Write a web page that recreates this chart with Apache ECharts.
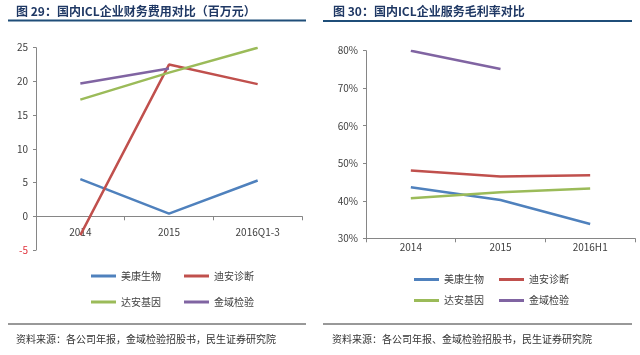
<!DOCTYPE html>
<html>
<head>
<meta charset="utf-8">
<script src="https://cdn.jsdelivr.net/npm/echarts@6/dist/echarts.min.js"></script>
<style>
html,body{margin:0;padding:0;background:#fff;}
#c{width:640px;height:355px;}
</style>
</head>
<body>
<div id="c"></div>
<script>
// ---- data ----
const seriesNames = ['美康生物', '迪安诊断', '达安基因', '金域检验'];
const seriesColors = ['#4F81BD', '#C0504D', '#9BBB59', '#8064A2'];

// Chart 29: financial expense (million yuan)
const catsLeft = ['2014', '2015', '2016Q1-3'];
const meikangExp = [5.5, 0.4, 5.3];
const dianExp = [-2.8, 22.5, 19.6];
const daanExp = [17.3, 21.3, 25.0];
const jinyuExp = [19.7, 21.9, null];

// Chart 30: service gross margin (%)
const catsRight = ['2014', '2015', '2016H1'];
const meikangMargin = [43.6, 40.2, 33.8];
const dianMargin = [48.1, 46.5, 46.8];
const daanMargin = [40.7, 42.3, 43.3];
const jinyuMargin = [80.0, 75.1, null];

const titleLeft = '图 29：国内ICL企业财务费用对比（百万元）';
const titleRight = '图 30：国内ICL企业服务毛利率对比';
const sourceText = '资料来源：各公司年报，金域检验招股书，民生证券研究院';
const sourceTextRight = '资料来源：各公司年报、金域检验招股书，民生证券研究院';

const font = '"Noto Sans CJK SC", "Noto Sans", sans-serif';
const axisCol = '#868686';
const txtCol = '#404040';

function mkLine(name, data, xi, color) {
  return {
    name: name, type: 'line', data: data,
    xAxisIndex: xi, yAxisIndex: xi,
    symbol: 'none', showSymbol: false,
    lineStyle: {width: 2.5, color: color},
    itemStyle: {color: color},
    connectNulls: false,
    z: 3
  };
}

const xBase = {
  type: 'category',
  boundaryGap: true,
  axisLine: {lineStyle: {color: axisCol, width: 1}},
  axisTick: {show: true, length: 4, inside: false, lineStyle: {color: axisCol}},
  axisLabel: {color: txtCol, fontSize: 10, fontFamily: font, margin: 5},
  splitLine: {show: false}
};

const legendText = {fontSize: 10, color: txtCol, fontFamily: font};

const chart = echarts.init(document.getElementById('c'), null, {renderer: 'canvas'});

const option = {
  backgroundColor: '#fff',
  animation: false,
  textStyle: {fontFamily: font},
  grid: [
    {left: 36, right: 338, top: 47.7, bottom: 105, containLabel: false},
    {left: 366, right: 5, top: 50.7, bottom: 116.7, containLabel: false}
  ],
  xAxis: [
    Object.assign({}, xBase, {gridIndex: 0, data: catsLeft,
      axisLine: {onZero: true, lineStyle: {color: axisCol, width: 1}},
      axisLabel: {color: txtCol, fontSize: 10, fontFamily: font, margin: -23}}),
    Object.assign({}, xBase, {gridIndex: 1, data: catsRight,
      axisLabel: {color: txtCol, fontSize: 10, fontFamily: font, margin: 4}})
  ],
  yAxis: [
    {type: 'value', gridIndex: 0, min: -5, max: 25, interval: 5,
     axisLine: {show: true, lineStyle: {color: axisCol}},
     axisTick: {show: true, length: 3, lineStyle: {color: axisCol}},
     splitLine: {show: false},
     axisLabel: {fontSize: 10, fontFamily: font, margin: 8,
       color: function (v) { return v < 0 ? '#E0303A' : txtCol; }}},
    {type: 'value', gridIndex: 1, min: 30, max: 80, interval: 10,
     axisLine: {show: true, lineStyle: {color: axisCol}},
     axisTick: {show: true, length: 3, lineStyle: {color: axisCol}},
     splitLine: {show: false},
     axisLabel: {fontSize: 10, fontFamily: font, margin: 8, color: txtCol,
       formatter: '{value}%'}}
  ],
  legend: [
    {left: 86, top: 266, itemWidth: 25, itemHeight: 3, itemGap: 23, itemTextGap: 3, icon: 'rect',
     data: [seriesNames[0], seriesNames[1]], textStyle: legendText},
    {left: 86, top: 292, itemWidth: 25, itemHeight: 3, itemGap: 23, itemTextGap: 3, icon: 'rect',
     data: [seriesNames[2], seriesNames[3]], textStyle: legendText},
    {left: 409, top: 269.5, itemWidth: 25, itemHeight: 3, itemGap: 15, itemTextGap: 3, icon: 'rect',
     data: [seriesNames[0], seriesNames[1]], textStyle: legendText},
    {left: 409, top: 290.5, itemWidth: 25, itemHeight: 3, itemGap: 15, itemTextGap: 3, icon: 'rect',
     data: [seriesNames[2], seriesNames[3]], textStyle: legendText}
  ],
  series: [
    mkLine(seriesNames[0], meikangExp, 0, seriesColors[0]),
    mkLine(seriesNames[1], dianExp, 0, seriesColors[1]),
    mkLine(seriesNames[2], daanExp, 0, seriesColors[2]),
    mkLine(seriesNames[3], jinyuExp, 0, seriesColors[3]),
    mkLine(seriesNames[0], meikangMargin, 1, seriesColors[0]),
    mkLine(seriesNames[1], dianMargin, 1, seriesColors[1]),
    mkLine(seriesNames[2], daanMargin, 1, seriesColors[2]),
    mkLine(seriesNames[3], jinyuMargin, 1, seriesColors[3])
  ],
  graphic: [
    {type: 'text', left: 16, top: 5,
     style: {text: titleLeft, fill: '#1F3864', font: 'bold 12px ' + font}},
    {type: 'line', shape: {x1: 8, y1: 20.5, x2: 306, y2: 20.5},
     style: {stroke: '#1F4E79', lineWidth: 2}},
    {type: 'text', left: 333, top: 5,
     style: {text: titleRight, fill: '#1F3864', font: 'bold 12px ' + font}},
    {type: 'line', shape: {x1: 323, y1: 21, x2: 632, y2: 21},
     style: {stroke: '#1F4E79', lineWidth: 2}},
    {type: 'line', shape: {x1: 8, y1: 324, x2: 306, y2: 324},
     style: {stroke: '#333', lineWidth: 1}},
    {type: 'line', shape: {x1: 323, y1: 324, x2: 632, y2: 324},
     style: {stroke: '#333', lineWidth: 1}},
    {type: 'text', left: 16, top: 334,
     style: {text: sourceText, fill: '#333', font: '10px ' + font}},
    {type: 'text', left: 332, top: 334,
     style: {text: sourceTextRight, fill: '#333', font: '10px ' + font}}
  ]
};
chart.setOption(option);
</script>
</body>
</html>
